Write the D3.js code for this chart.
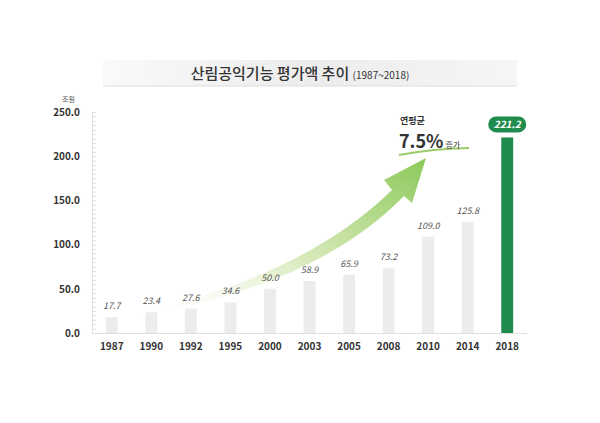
<!DOCTYPE html><html><head><meta charset="utf-8"><script src="https://cdn.jsdelivr.net/npm/d3@7"></script>
<style>body{margin:0;background:#fff}text{font-family:"Noto Sans CJK KR","Noto Sans",sans-serif}</style></head><body><svg id="c" width="600" height="423"></svg>
<script>
const years=["1987","1990","1992","1995","2000","2003","2005","2008","2010","2014","2018"];
const values=[17.7,23.4,27.6,34.6,50.0,58.9,65.9,73.2,109.0,125.8,221.2];
const yTicks=[0,50,100,150,200,250];
const svg=d3.select("#c");
const defs=svg.append("defs");
const tg=defs.append("linearGradient").attr("id","tg");
tg.append("stop").attr("offset","0").attr("stop-color","#fafafa");
tg.append("stop").attr("offset","0.5").attr("stop-color","#ececec");
tg.append("stop").attr("offset","1").attr("stop-color","#f6f6f6");
const ag=defs.append("linearGradient").attr("id","ag").attr("x1","0").attr("x2","1").attr("y1","1").attr("y2","0");
ag.append("stop").attr("offset","0").attr("stop-color","#ffffff").attr("stop-opacity",0);
ag.append("stop").attr("offset","0.5").attr("stop-color","#d6e9b8");
ag.append("stop").attr("offset","1").attr("stop-color","#8cc95a");
svg.append("rect").attr("x",103).attr("y",60).attr("width",414).attr("height",26).attr("fill","url(#tg)");
svg.append("line").attr("x1",103).attr("x2",517).attr("y1",86).attr("y2",86).attr("stroke","#ddd");
const t=svg.append("text").attr("x",300).attr("y",79).attr("text-anchor","middle").attr("fill","#333");
t.append("tspan").attr("font-size",15).attr("font-weight",500).text("산림공익기능 평가액 추이 ");
t.append("tspan").attr("font-size",10).text("(1987~2018)");
const x=d3.scaleBand().domain(years).range([92,527]).paddingInner(0.7).paddingOuter(0.35);
const y=d3.scaleLinear().domain([0,250]).range([333,112]);
const ya=svg.append("g").attr("transform","translate(92,0)").call(d3.axisLeft(y).tickValues(yTicks).tickFormat(d3.format(".1f")).tickSize(0).tickPadding(12));
ya.select(".domain").attr("stroke","#e5e5e5");
ya.selectAll("text").attr("font-size",10).attr("font-weight",700).attr("fill","#333");
svg.append("g").attr("transform","translate(92,0)").call(d3.axisRight(y).ticks(50).tickSize(4).tickFormat("")).call(g=>{g.select(".domain").remove();g.selectAll("line").attr("stroke","#ddd");});
svg.append("text").attr("x",62).attr("y",102).attr("font-size",7).attr("fill","#555").text("조원");
svg.append("path").attr("d","M118,318 Q300,280 392,190 L384,180 L426,158 L412,203 L404,196 Q310,292 118,318 Z").attr("fill","url(#ag)");
svg.selectAll(".b").data(values).join("rect").attr("x",(d,i)=>x(years[i])).attr("width",x.bandwidth()).attr("y",d=>y(d)).attr("height",d=>333-y(d)).attr("fill",(d,i)=>i==10?"#1f8c4d":"#ececec");
svg.append("line").attr("x1",92).attr("x2",527).attr("y1",333.5).attr("y2",333.5).attr("stroke","#e0e0e0");
svg.selectAll(".v").data(values.slice(0,10)).join("text").attr("x",(d,i)=>x(years[i])+x.bandwidth()/2).attr("y",d=>y(d)-8).attr("text-anchor","middle").attr("font-size",9).attr("font-style","italic").attr("fill","#555").text(d=>d.toFixed(1));
svg.selectAll(".xl").data(years).join("text").attr("x",d=>x(d)+x.bandwidth()/2).attr("y",350).attr("text-anchor","middle").attr("font-size",10).attr("font-weight",700).attr("fill","#333").text(d=>d);
const lx=x("2018")+x.bandwidth()/2, ly=y(221.2)-13;
svg.append("rect").attr("x",lx-19).attr("y",ly-8).attr("width",38).attr("height",16).attr("rx",8).attr("fill","#1f8c4d");
svg.append("text").attr("x",lx).attr("y",ly+3.5).attr("text-anchor","middle").attr("font-size",10).attr("font-weight",700).attr("font-style","italic").attr("fill","#fff").text("221.2");
svg.append("path").attr("d","M399,155 Q430,149 469,148").attr("stroke","#9ccc6a").attr("stroke-width",2).attr("fill","none");
svg.append("text").attr("x",400).attr("y",124).attr("font-size",9).attr("font-weight",700).attr("fill","#333").text("연평균");
const a=svg.append("text").attr("x",399).attr("y",148).attr("fill","#333");
a.append("tspan").attr("font-size",18).attr("font-weight",700).text("7.5%");
a.append("tspan").attr("font-size",8).attr("dx",2).text("증가");
</script></body></html>
